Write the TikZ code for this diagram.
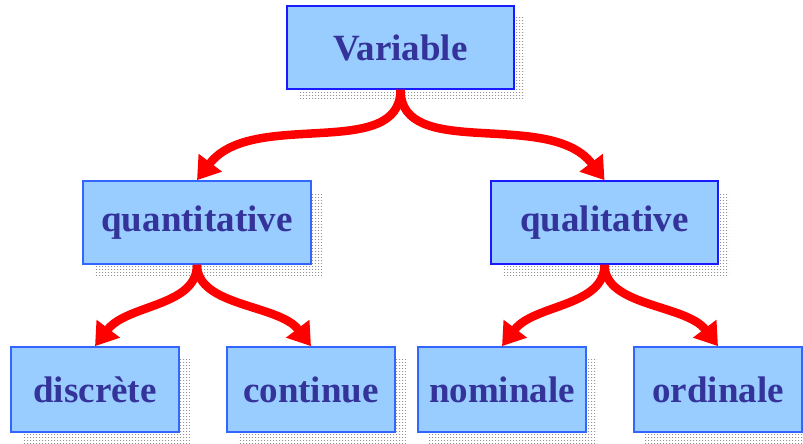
\documentclass[tikz,border=0pt]{standalone}
\usepackage{fontspec}
\setmainfont{Liberation Serif}
\usetikzlibrary{arrows.meta,shadows,patterns.meta}
\definecolor{boxfill}{HTML}{99CCFF}
\definecolor{boxline}{HTML}{3366FF}
\definecolor{boxline2}{HTML}{1A1AFF}
\definecolor{txt}{HTML}{333399}
\tikzdeclarepattern{
  name=fdots, type=uncolored,
  bounding box={(0,0) and (3pt,3pt)},
  tile size={(3pt,3pt)},
  code={\pgfpathrectangle{\pgfpoint{0pt}{0pt}}{\pgfpoint{1.4pt}{1.2pt}}\pgfusepath{fill}}
}
\tikzset{
  boxstyle/.style={draw=boxline, line width=1.6pt, fill=boxfill, text=txt,
    font=\fontsize{37}{40}\selectfont\bfseries, inner sep=0pt,
    general shadow={shadow xshift=11pt, shadow yshift=-11pt, pattern={fdots}, pattern color=gray!85}},
  bigbox/.style={boxstyle, minimum width=227pt, minimum height=83pt},
  smallbox/.style={boxstyle, minimum width=168pt, minimum height=85pt},
  arr/.style={draw=red, line width=8.5pt, -{Triangle[width=28pt,length=22pt]}}
}
\begin{document}
\begin{tikzpicture}[x=1pt,y=-1pt]
\useasboundingbox (0,0) rectangle (803,444);
\node[bigbox, draw=boxline2] (var) at (400.5,47.5) {Variable};
\node[bigbox, minimum width=228pt] (quant) at (197,222.5) {quantitative};
\node[bigbox, draw=boxline2] (qual) at (604.5,222.5) {qualitative};
\node[smallbox] (disc) at (95,389.5) {discrète};
\node[smallbox] (cont) at (311,389.5) {continue};
\node[smallbox] (nom) at (502,389.5) {nominale};
\node[smallbox] (ord) at (718,389.5) {ordinale};
\draw[arr] (var.south) .. controls +(0,72) and +(55,-72) .. (quant.north);
\draw[arr] (var.south) .. controls +(0,72) and +(-55,-72) .. (qual.north);
\draw[arr] (quant.south) .. controls +(0,42) and +(32,-42) .. (disc.north);
\draw[arr] (quant.south) .. controls +(0,42) and +(-32,-42) .. (cont.north);
\draw[arr] (qual.south) .. controls +(0,42) and +(32,-42) .. (nom.north);
\draw[arr] (qual.south) .. controls +(0,42) and +(-32,-42) .. (ord.north);
\end{tikzpicture}
\end{document}
